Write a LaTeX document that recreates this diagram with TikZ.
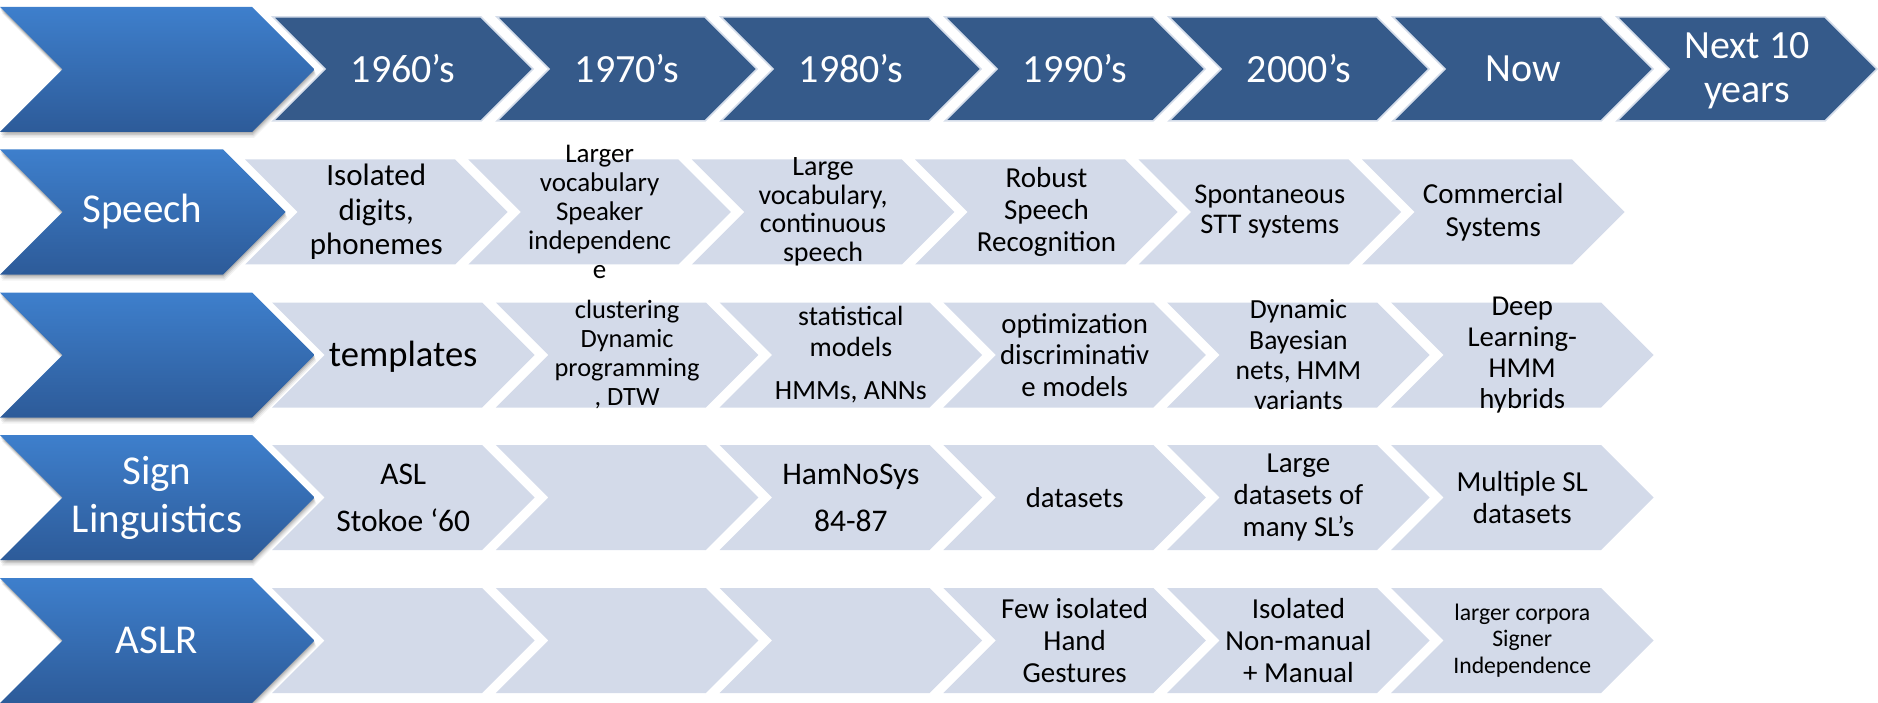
\documentclass[tikz,border=0pt]{standalone}
\usepackage{fontspec}
\setmainfont{Carlito}
\definecolor{darkchev}{HTML}{355A8A}
\definecolor{darkedge}{HTML}{D5DDEA}
\definecolor{lightchev}{HTML}{D3DAE9}
\definecolor{bluetop}{HTML}{3E7FCC}
\definecolor{bluebot}{HTML}{2D5B99}
\newcommand\darkchevron[1]{%
  \filldraw[darkstyle] (#1,17) -- ++(208,0) -- ++(52,52) -- ++(-52,52) -- ++(-208,0) -- ++(52,-52) -- cycle;}
\newcommand\lightchevron[2]{%
  \fill[lightstyle] (#1,#2-52.5) -- ++(210,0) -- ++(52.5,52.5) -- ++(-52.5,52.5) -- ++(-210,0) -- ++(52.5,-52.5) -- cycle;}
\newcommand\bigchevron[2]{%
  \foreach \s/\o in {6/0.05,4.5/0.07,3/0.10,1.5/0.12}{%
    \fill[black,opacity=\o,shift={(0.3*\s,\s)}] (0,#2-62.5) -- (#1,#2-62.5) -- (#1+62.5,#2) -- (#1,#2+62.5) -- (0,#2+62.5) -- (62.5,#2) -- cycle;}
  \shade[top color=bluetop,bottom color=bluebot] (0,#2-62.5) -- (#1,#2-62.5) -- (#1+62.5,#2) -- (#1,#2+62.5) -- (0,#2+62.5) -- (62.5,#2) -- cycle;}
\tikzset{
  darkstyle/.style={fill=darkchev,draw=darkedge,line width=1.5pt,line join=miter},
  lightstyle/.style={fill=lightchev},
  hdr/.style={text=white,align=center,inner sep=0pt,font=\fontsize{40}{44}\selectfont},
  lbl/.style={text=white,align=center,inner sep=0pt,font=\fontsize{41}{48}\selectfont},
  body/.style={text=black,align=center,inner sep=0pt}
}
\begin{document}
\begin{tikzpicture}[x=1pt,y=-1pt]
\useasboundingbox (0,0) rectangle (1878,703);
% header dark chevrons
\foreach \k in {0,...,6}{\darkchevron{273+224*\k}}
% row 2
\foreach \k in {0,...,5}{\lightchevron{245+223.4*\k}{212}}
% rows 3-5
\foreach \r in {355,497.5,640.5}{\foreach \k in {0,...,5}{\lightchevron{272+223.8*\k}{\r}}}
% big blue chevrons
\bigchevron{252}{69.5}
\bigchevron{223}{212}
\bigchevron{252}{355}
\bigchevron{252}{497.5}
\bigchevron{252}{640.5}
% header texts
\node[hdr] (h1) at (403,69) {1960’s};
\node[hdr] (h2) at (627,69) {1970’s};
\node[hdr] (h3) at (851,69) {1980’s};
\node[hdr] (h4) at (1075,69) {1990’s};
\node[hdr] (h5) at (1299,69) {2000’s};
\node[hdr] (h6) at (1523,69) {Now};
\node[hdr] (h7) at (1747,71) {Next 10\\years};
% row labels
\node[lbl] (l1) at (142.5,212) {Speech};
\node[lbl] (l2) at (157,497.5) {Sign\\Linguistics};
\node[lbl] (l3) at (157,640.5) {ASLR};
% row 2
\node[body,font=\fontsize{31}{34.5}\selectfont] (b21) at (376.25,212) {Isolated\\digits,\\phonemes};
\node[body,font=\fontsize{27}{29}\selectfont] (b22) at (599.65,212) {Larger\\vocabulary\\Speaker\\independenc\\e};
\node[body,font=\fontsize{28}{28.5}\selectfont] (b23) at (823.05,212) {Large\\vocabulary,\\continuous\\speech};
\node[body,font=\fontsize{29}{32}\selectfont] (b24) at (1046.45,212) {Robust\\Speech\\Recognition};
\node[body,font=\fontsize{28.5}{30}\selectfont] (b25) at (1269.85,212) {Spontaneous\\STT systems};
\node[body,font=\fontsize{29}{33}\selectfont] (b26) at (1493.25,212) {Commercial\\Systems};
% row 3
\node[body,font=\fontsize{36.6}{40}\selectfont] (b31) at (403.25,357) {templates};
\node[body,font=\fontsize{26.4}{29}\selectfont] (b32) at (627.05,355) {clustering\\Dynamic\\programming\\, DTW};
\node[body,font=\fontsize{27.8}{31}\selectfont] (b33) at (850.85,355) {statistical\\models\\[12pt]HMMs, ANNs};
\node[body,font=\fontsize{28.8}{31.7}\selectfont] (b34) at (1074.65,355) {optimization\\discriminativ\\e models};
\node[body,font=\fontsize{27.6}{30.4}\selectfont] (b35) at (1298.45,355) {Dynamic\\Bayesian\\nets, HMM\\variants};
\node[body,font=\fontsize{28.8}{31}\selectfont] (b36) at (1522.25,355) {Deep\\Learning-\\HMM\\hybrids};
% row 4
\node[body,font=\fontsize{31.5}{34}\selectfont] (b41) at (403.25,497.5) {ASL\\[13pt]Stokoe ‘60};
\node[body,font=\fontsize{31.5}{34}\selectfont] (b43) at (850.85,497.5) {HamNoSys\\[13pt]84-87};
\node[body,font=\fontsize{28.7}{32}\selectfont] (b44) at (1074.65,497.5) {datasets};
\node[body,font=\fontsize{29}{32}\selectfont] (b45) at (1298.45,497.5) {Large\\datasets of\\many SL’s};
\node[body,font=\fontsize{29}{32}\selectfont] (b46) at (1522.25,497.5) {Multiple SL\\datasets};
% row 5
\node[body,font=\fontsize{29}{31.7}\selectfont] (b54) at (1074.65,640.5) {Few isolated\\Hand\\Gestures};
\node[body,font=\fontsize{29}{32}\selectfont] (b55) at (1298.45,640.5) {Isolated\\Non-manual\\+ Manual};
\node[body,font=\fontsize{23.7}{26.5}\selectfont] (b56) at (1522.25,640.5) {larger corpora\\Signer\\Independence};
\end{tikzpicture}
\end{document}
